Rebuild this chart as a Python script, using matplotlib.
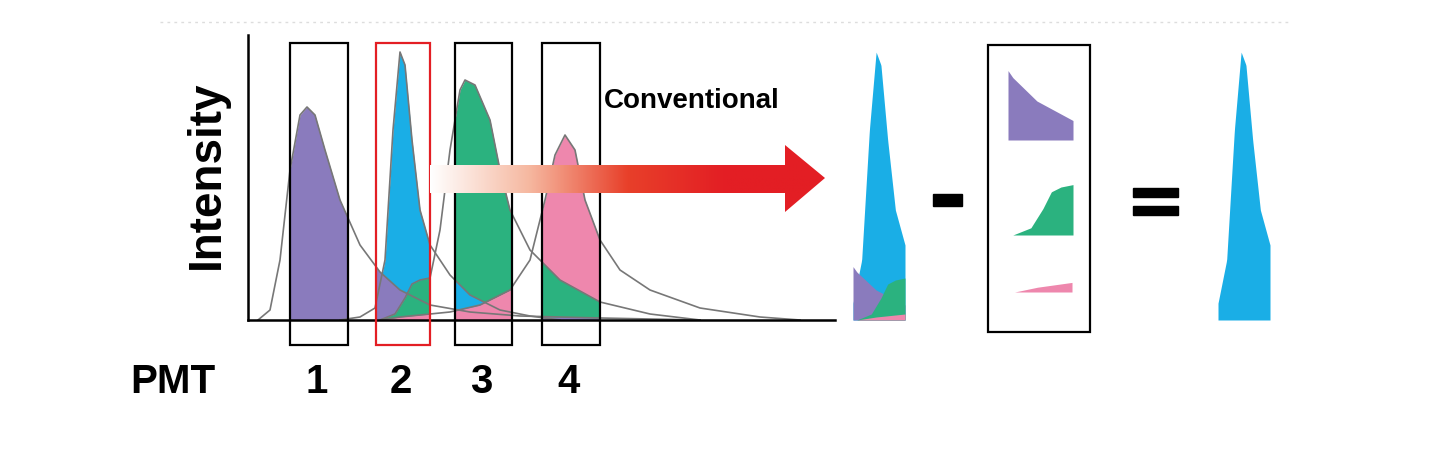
import numpy as np
import matplotlib
matplotlib.use("Agg")
import matplotlib.pyplot as plt
from matplotlib.patches import Rectangle, Polygon
from matplotlib.colors import LinearSegmentedColormap

plt.rcParams['font.family'] = ['Liberation Sans', 'DejaVu Sans']

# emission spectra: (wavelength position, intensity above baseline)
purple_x = [258,270,280,290,300,307,315,325,340,360,380,400,430,470,520,600,700]
purple_y = [0,10,60,150,205,213,205,170,120,75,48,30,15,8,4,2,0]
blue_x = [340,360,375,385,393,400,405,412,420,430,450,470,500,530,560]
blue_y = [0,3,12,60,190,268,255,180,110,75,45,25,10,4,0]
green_x = [380,395,405,412,420,430,440,450,460,465,475,490,500,510,530,560,600,650,700]
green_y = [0,6,22,36,40,42,90,170,230,240,235,200,150,110,70,40,18,6,0]
pink_x = [380,400,420,450,480,510,530,545,555,565,575,585,600,620,650,700,760,800]
pink_y = [0,3,5,8,15,30,60,120,165,185,170,120,80,50,30,12,3,0]
pmt_labels = ["1", "2", "3", "4"]
pmt_ranges = [(290,348),(376,430),(455,512),(542,600)]

C_PURPLE = "#8a7bbd"; C_BLUE = "#1aaee6"; C_GREEN = "#2bb27f"; C_PINK = "#ee87ad"
curves = {"purple": (purple_x, purple_y, C_PURPLE), "blue": (blue_x, blue_y, C_BLUE),
          "green": (green_x, green_y, C_GREEN), "pink": (pink_x, pink_y, C_PINK)}
BASE = 320

fig = plt.figure(figsize=(14.32, 4.66), dpi=100)
ax = fig.add_axes([0, 0, 1, 1])
ax.set_xlim(0, 1432); ax.set_ylim(466, 0); ax.axis('off')

def seg(name, x0, x1):
    xs, ys, c = curves[name]
    g = np.linspace(x0, x1, 120)
    return g, np.interp(g, xs, ys, left=0, right=0), c

def fill_box(x0, x1, order, sx=1.0, sy=1.0, base=BASE, nx0=None):
    for n in order:
        g, v, c = seg(n, x0, x1)
        gx = (g - x0) * sx + (x0 if nx0 is None else nx0)
        ax.fill_between(gx, base, base - v * sy, color=c, lw=0, zorder=2)

# fills inside PMT windows
fill_box(*pmt_ranges[0], ["purple", "blue", "green", "pink"])
fill_box(*pmt_ranges[1], ["blue", "purple", "green", "pink"])
fill_box(*pmt_ranges[2], ["green", "blue", "purple", "pink"])
fill_box(*pmt_ranges[3], ["pink", "green", "blue", "purple"])

# outlines
for n, (xs, ys, c) in curves.items():
    ax.plot(xs, [BASE - y for y in ys], color="#777777", lw=1.2, zorder=3)

# axes
ax.plot([248, 248], [35, BASE], color="k", lw=1.8, zorder=4)
ax.plot([248, 835], [BASE, BASE], color="k", lw=1.8, zorder=4)

# boxes
for i, (a, b) in enumerate(pmt_ranges):
    ax.add_patch(Rectangle((a, 43), b - a, 302, fill=False,
                           ec="#e31e24" if i == 1 else "k", lw=1.6, zorder=5))
    ax.text((a + b) / 2 - 2, 382, pmt_labels[i], fontsize=29, fontweight='bold',
            ha='center', va='center')
ax.text(130, 382, "PMT", fontsize=29, fontweight='bold', ha='left', va='center')
ax.text(207, 175, "Intensity", fontsize=33, fontweight='bold', rotation=90,
        ha='center', va='center')

# gradient arrow
poly = Polygon([(430,165),(785,165),(785,145),(825,178),(785,212),(785,193),(430,193)],
               closed=True, fc='none', ec='none')
ax.add_patch(poly)
cmap = LinearSegmentedColormap.from_list("wr", ["#ffffff", "#f6b8a0", "#e8402a", "#e31e24", "#e31e24"])
im = ax.imshow(np.linspace(0, 1, 256)[None, :], cmap=cmap, aspect='auto',
               extent=(430, 825, 212, 145), zorder=6)
im.set_clip_path(poly)
ax.text(604, 101, "Conventional", fontsize=20, fontweight='bold', ha='left',
        va='center', zorder=7)

# measured signal in PMT 2
fill_box(376, 430, ["blue", "purple", "green", "pink"], sx=52/54, nx0=853)
# crosstalk components
fill_box(376, 430, ["purple"], sx=65/54, sy=1.3, base=140, nx0=1008)
fill_box(376, 430, ["green"], sx=65/54, sy=1.2, base=235, nx0=1008)
fill_box(376, 430, ["pink"], sx=62/54, sy=1.6, base=292, nx0=1010)
ax.add_patch(Rectangle((988, 45), 102, 287, fill=False, ec="k", lw=1.6))
# result
fill_box(376, 430, ["blue"], sx=52/54, nx0=1218)

# operators
ax.add_patch(Rectangle((933, 194), 29, 12, color="k"))
ax.add_patch(Rectangle((1133, 188), 45, 9, color="k"))
ax.add_patch(Rectangle((1133, 206), 45, 9, color="k"))

ax.plot([160, 1290], [22, 22], color="#dddddd", lw=1, ls=(0, (2, 3)))

fig.savefig("out.png", dpi=100)
